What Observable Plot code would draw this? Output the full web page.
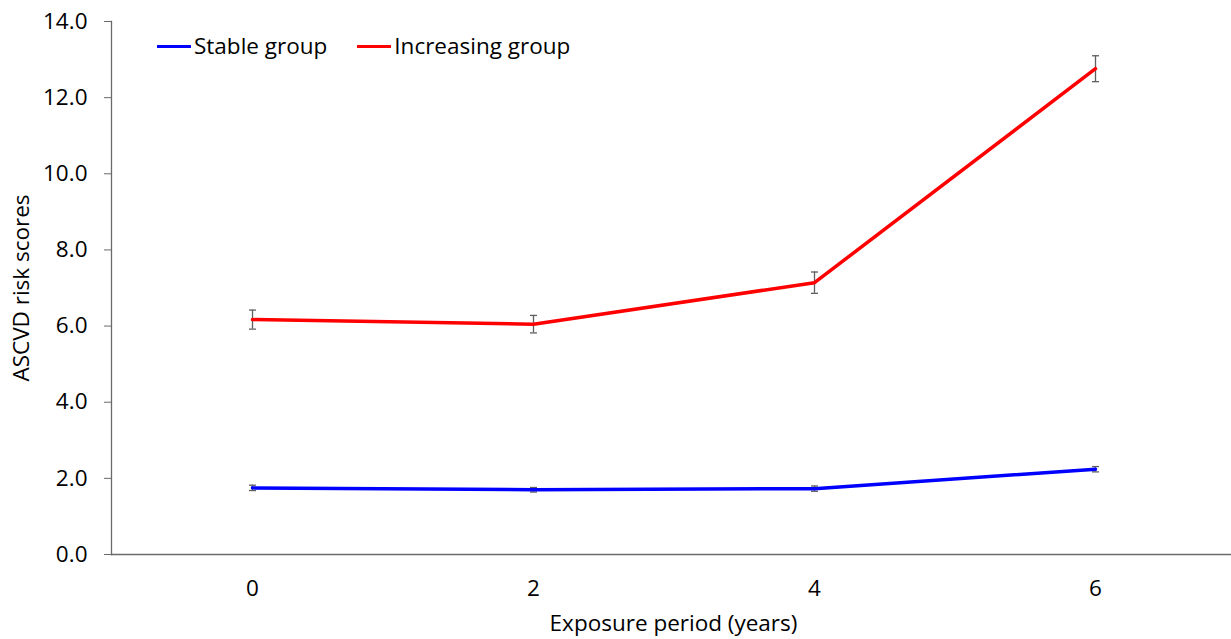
<!DOCTYPE html>
<html>
<head>
<meta charset="utf-8">
<script src="https://cdn.jsdelivr.net/npm/d3@7"></script>
<script src="https://cdn.jsdelivr.net/npm/@observablehq/plot@0.6"></script>
<style>
  body { margin: 0; background: #fff; }
  #wrap { position: relative; width: 1231px; height: 639px; overflow: hidden; font-family: "Open Sans", sans-serif; }
  #legend { position: absolute; left: 157px; top: 30px; display: flex; align-items: center; font-size: 22.5px; color: #000; line-height: 32px; }
  .item { display: flex; align-items: center; margin-right: 30px; }
  .swatch { width: 34px; height: 3px; margin-right: 3px; }
</style>
</head>
<body>
<div id="wrap"><div id="legend"></div></div>
<script>
const years = [0, 2, 4, 6];
const seriesNames = ["Stable group", "Increasing group"];
const seriesColors = ["#0000ff", "#ff0000"];
const stableMean = [1.75, 1.70, 1.73, 2.24];
const stableErr = [0.07, 0.06, 0.07, 0.07];
const increasingMean = [6.17, 6.05, 7.14, 12.76];
const increasingErr = [0.25, 0.23, 0.28, 0.34];
const yTicks = [0, 2, 4, 6, 8, 10, 12, 14];

const rows = [];
years.forEach((yr, i) => {
  rows.push({year: yr, series: seriesNames[0], value: stableMean[i], err: stableErr[i]});
  rows.push({year: yr, series: seriesNames[1], value: increasingMean[i], err: increasingErr[i]});
});
rows.forEach(r => { r.lo = r.value - r.err; r.hi = r.value + r.err; });

const capSymbol = { draw(ctx) { ctx.moveTo(-3.5, 0); ctx.lineTo(3.5, 0); } };
const errColor = "#5f5f5f";
const axisColor = "#6a6a6a";

const chart = Plot.plot({
  width: 1231,
  height: 639,
  marginLeft: 111,
  marginRight: -4,
  marginTop: 21,
  marginBottom: 85,
  style: { fontFamily: "Open Sans, sans-serif", fontSize: "22.5px", color: "#000", background: "#fff", overflow: "hidden" },
  x: { type: "point", domain: years, padding: 0.5 },
  y: { domain: [0, 14] },
  color: { domain: seriesNames, range: seriesColors },
  marks: [
    Plot.axisY({ticks: yTicks, tickFormat: d3.format(".1f"), tickSize: 7, tickPadding: 17, stroke: axisColor, label: "ASCVD risk scores", labelAnchor: "center", labelArrow: "none", labelOffset: 98}),
    Plot.axisX({tickSize: 0, tickPadding: 26, label: "Exposure period (years)", labelAnchor: "center", labelArrow: "none", labelOffset: 76}),
    Plot.ruleX(rows, {x: "year", y1: "lo", y2: "hi", stroke: errColor, strokeWidth: 1.3}),
    Plot.dot(rows, {x: "year", y: "lo", symbol: capSymbol, stroke: errColor, strokeWidth: 1.3, fill: "none"}),
    Plot.dot(rows, {x: "year", y: "hi", symbol: capSymbol, stroke: errColor, strokeWidth: 1.3, fill: "none"}),
    Plot.line(rows, {x: "year", y: "value", z: "series", stroke: "series", strokeWidth: 3.5}),
    Plot.frame({anchor: "left", stroke: axisColor, strokeWidth: 1.3}),
    Plot.frame({anchor: "bottom", stroke: axisColor, strokeWidth: 1.3})
  ]
});
document.getElementById("wrap").prepend(chart);

const legend = document.getElementById("legend");
seriesNames.forEach((n, i) => {
  const it = document.createElement("div");
  it.className = "item";
  const sw = document.createElement("div");
  sw.className = "swatch";
  sw.style.background = seriesColors[i];
  const t = document.createElement("span");
  t.textContent = n;
  it.append(sw, t);
  legend.append(it);
});
</script>
</body>
</html>
